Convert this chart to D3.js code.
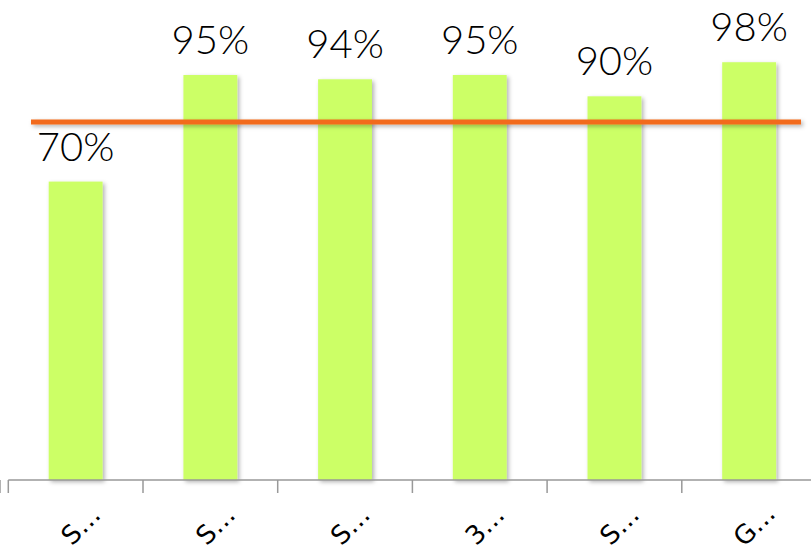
<!DOCTYPE html>
<html>
<head>
<meta charset="utf-8">
<script src="https://cdn.jsdelivr.net/npm/d3@7/dist/d3.min.js"></script>
<style>
  html, body { margin: 0; padding: 0; background: #fff; }
  svg { display: block; }
</style>
</head>
<body>
<script>
// Chart data
const categories = ["S…", "S…", "S…", "3…", "S…", "G…"];
const values = [70, 95, 94, 95, 90, 98];
const target = 84;
const yDomain = [0, 100];

const W = 811, H = 552;
const svg = d3.select("body").append("svg").attr("width", W).attr("height", H);

const defs = svg.append("defs");
const shadow = defs.append("filter").attr("id", "shadow")
  .attr("filterUnits", "userSpaceOnUse")
  .attr("x", 0).attr("y", 0).attr("width", W).attr("height", H);
shadow.append("feDropShadow")
  .attr("dx", 2).attr("dy", 2).attr("stdDeviation", 2)
  .attr("flood-color", "#000").attr("flood-opacity", 0.3);

const x = d3.scaleBand()
  .domain(d3.range(categories.length))
  .range([8.3, 816.5])
  .paddingInner(0.6)
  .paddingOuter(0.3);

const y = d3.scaleLinear().domain(yDomain).range([480, 53.7]);

// Bars
svg.append("g").selectAll("rect")
  .data(values)
  .join("rect")
  .attr("x", (d, i) => x(i))
  .attr("y", d => y(d))
  .attr("width", x.bandwidth())
  .attr("height", d => y(0) - y(d))
  .attr("fill", "#ccff66")
  .attr("filter", "url(#shadow)");

// Value labels
svg.append("g").selectAll("text")
  .data(values)
  .join("text")
  .attr("x", (d, i) => x(i) + x.bandwidth() / 2)
  .attr("y", d => y(d) - 21)
  .attr("text-anchor", "middle")
  .attr("font-family", "Lato, 'Open Sans', sans-serif")
  .attr("font-weight", 300)
  .attr("font-size", 40)
  .attr("fill", "#000")
  .text(d => d + "%");

// Target line
svg.append("line")
  .attr("x1", 31).attr("x2", 801)
  .attr("y1", y(target)).attr("y2", y(target))
  .attr("stroke", "#f26b1d")
  .attr("stroke-width", 5)
  .attr("filter", "url(#shadow)");

// Category axis
const axis = svg.append("g");
axis.append("line")
  .attr("x1", 8.3).attr("x2", W)
  .attr("y1", y(0)).attr("y2", y(0))
  .attr("stroke", "#999").attr("stroke-width", 1.5);

const step = x.step();
const bounds = d3.range(categories.length + 1).map(i => x(i) + x.bandwidth() / 2 - step / 2);
axis.selectAll("line.tick")
  .data(bounds)
  .join("line")
  .attr("class", "tick")
  .attr("x1", d => d).attr("x2", d => d)
  .attr("y1", y(0)).attr("y2", y(0) + 13)
  .attr("stroke", "#999").attr("stroke-width", 1.5);

axis.selectAll("text")
  .data(categories)
  .join("text")
  .attr("transform", (d, i) => `translate(${x(i) + x.bandwidth() / 2 + 5},525) rotate(-45)`)
  .attr("text-anchor", "middle")
  .attr("dy", "0.35em")
  .attr("font-family", "'DejaVu Sans', sans-serif")
  .attr("font-size", 26)
  .attr("fill", "#000")
  .text(d => d);
</script>
</body>
</html>
